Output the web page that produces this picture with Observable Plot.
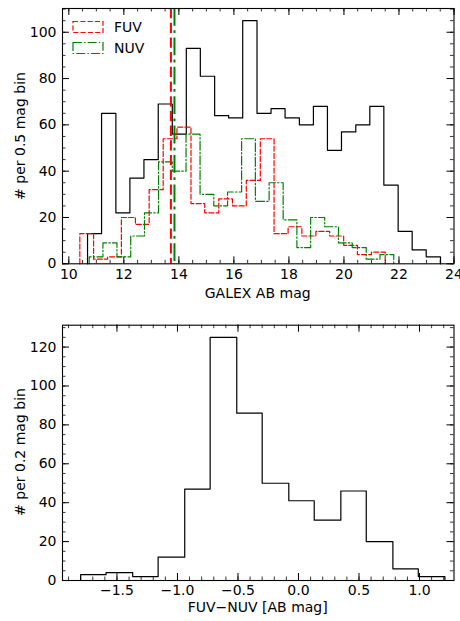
<!DOCTYPE html>
<html><head><meta charset="utf-8">
<script src="https://cdn.jsdelivr.net/npm/d3@7"></script>
<script src="https://cdn.jsdelivr.net/npm/@observablehq/plot@0.6"></script>
<style>
body{margin:0;background:#fff;}
#wrap{position:relative;width:460px;height:621px;font-family:"DejaVu Sans",sans-serif;background:#fff;}
.lab{position:absolute;font-size:14px;white-space:nowrap;color:#000;line-height:1;}
.chart{position:absolute;left:0;}
</style></head><body><div id="wrap"></div><script>
// ---------- data ----------
// Top panel: GALEX AB mag histograms (0.5 mag bins)
const totalEdges = [10.68,11.19,11.71,12.22,12.73,13.25,13.76,14.27,14.78,15.30,15.81,16.32,16.84,17.35,17.86,18.38,18.89,19.40,19.91,20.43,20.94,21.45,21.97,22.48,22.99,23.51];
const totalCounts = [13,65,22,37,45,69,56,93,81,64,63,105,65,67,63,60,68,49,57,60,68,34,14,6,3];
const fuvEdges = [10.40,10.90,11.41,11.91,12.42,12.92,13.43,13.93,14.44,14.94,15.45,15.95,16.45,16.96,17.46,17.97,18.47,18.98,19.48,19.99,20.49,21.00,21.50];
const fuvCounts = [13,2,3,20,17,32,54,59,26,22,28,25,36,54,13,16,12,14,12,8,4,5];
const nuvEdges = [10.74,11.24,11.75,12.25,12.75,13.26,13.76,14.26,14.77,15.27,15.77,16.28,16.78,17.28,17.79,18.29,18.79,19.30,19.80,20.30,20.81,21.31,21.81];
const nuvCounts = [3,9,3,12,22,44,40,56,30,25,31,54,27,35,19,7,20,16,9,7,2,4];
const medianFUV = 13.71;
const medianNUV = 13.84;
// Bottom panel: FUV-NUV colour histogram
const colorEdges = [-1.80,-1.59,-1.37,-1.16,-0.94,-0.73,-0.51,-0.30,-0.08,0.13,0.35,0.56,0.78,0.99,1.21];
const colorCounts = [3,4,2,12,47,125,86,50,41,31,46,20,6,2];
// axes / ticks
const topXDomain = [9.77, 24.0];
const topYDomain = [0, 110.25];
const botXDomain = [-1.95, 1.285];
const botYDomain = [0, 131.25];
const topXMajor = [10,12,14,16,18,20,22,24];
const topYMajor = [0,20,40,60,80,100];
const botXMajor = [-1.5,-1.0,-0.5,0.0,0.5,1.0];
const botYMajor = [0,20,40,60,80,100,120];
const topXMinor = d3.range(10, 24.01, 0.5);
const topYMinor = d3.range(0, 110.1, 5);
const botXMinor = d3.range(-19, 13).map(d => d / 10);
const botYMinor = d3.range(0, 131, 5);
const labels = {
  topX: "GALEX AB mag", topY: "# per 0.5 mag bin",
  botX: "FUV\u2212NUV [AB mag]", botY: "# per 0.2 mag bin",
  fuv: "FUV", nuv: "NUV"
};

// ---------- helpers ----------
function stepPts(edges, counts) {
  const pts = [{x: edges[0], y: 0}];
  counts.forEach((c, i) => { pts.push({x: edges[i], y: c}); pts.push({x: edges[i + 1], y: c}); });
  pts.push({x: edges[edges.length - 1], y: 0});
  return pts;
}
const W = 460, ML = 62, MR = 6.5;
const dashed = "5.1,2.2", dashdot = "8.9,2.2,1.4,2.2";
function tickMarks(xMajor, xMinor, yMajor, yMinor, ph, pw) {
  const s = {stroke: "black", strokeWidth: 1};
  const m = {stroke: "black", strokeWidth: 0.8};
  return [
    Plot.tickX(xMajor, {x: d => d, insetTop: ph - 7, ...s}),
    Plot.tickX(xMajor, {x: d => d, insetBottom: ph - 7, ...s}),
    Plot.tickX(xMinor, {x: d => d, insetTop: ph - 3.5, ...m}),
    Plot.tickX(xMinor, {x: d => d, insetBottom: ph - 3.5, ...m}),
    Plot.tickY(yMajor, {y: d => d, insetRight: pw - 7, ...s}),
    Plot.tickY(yMajor, {y: d => d, insetLeft: pw - 7, ...s}),
    Plot.tickY(yMinor, {y: d => d, insetRight: pw - 3.5, ...m}),
    Plot.tickY(yMinor, {y: d => d, insetLeft: pw - 3.5, ...m})
  ];
}
const wrap = document.getElementById("wrap");
const style = {fontFamily: "DejaVu Sans", fontSize: "14px", background: "transparent", overflow: "visible", color: "black"};

// ---------- top panel ----------
{
  const mt = 8, H = 300, bottom = 263.3, mb = H - bottom;
  const ph = bottom - mt, pw = W - ML - MR;
  const chart = Plot.plot({
    width: W, height: H, marginTop: mt, marginBottom: mb, marginLeft: ML, marginRight: MR,
    style,
    x: {domain: topXDomain},
    y: {domain: topYDomain},
    marks: [
      Plot.line(stepPts(totalEdges, totalCounts), {x: "x", y: "y", stroke: "black", strokeWidth: 1.2}),
      Plot.line(stepPts(fuvEdges, fuvCounts), {x: "x", y: "y", stroke: "#ff0000", strokeWidth: 1.2, strokeDasharray: dashed}),
      Plot.line(stepPts(nuvEdges, nuvCounts), {x: "x", y: "y", stroke: "green", strokeWidth: 1.2, strokeDasharray: dashdot}),
      Plot.ruleX([medianFUV], {x: d => d, stroke: "#ff0000", strokeWidth: 2, strokeDasharray: "10.3,4.4"}),
      Plot.ruleX([medianNUV], {x: d => d, stroke: "green", strokeWidth: 2, strokeDasharray: "17.8,4.4,2.8,4.4"}),
      ...tickMarks(topXMajor, topXMinor, topYMajor, topYMinor, ph, pw),
      Plot.frame({stroke: "black", strokeWidth: 1.1}),
      Plot.axisX({ticks: topXMajor, tickSize: 0, tickPadding: 5, tickFormat: d => String(d), label: null}),
      Plot.axisY({ticks: topYMajor, tickSize: 0, tickPadding: 6, tickFormat: d => String(d), label: null})
    ]
  });
  chart.classList.add("chart");
  chart.style.top = "0px";
  wrap.appendChild(chart);
}

// ---------- bottom panel ----------
{
  const top0 = 310, H = 300;
  const mt = 324.7 - top0, bottom = 580 - top0, mb = H - bottom;
  const ph = bottom - mt, pw = W - ML - MR;
  const chart = Plot.plot({
    width: W, height: H, marginTop: mt, marginBottom: mb, marginLeft: ML, marginRight: MR,
    style,
    x: {domain: botXDomain},
    y: {domain: botYDomain},
    marks: [
      Plot.line(stepPts(colorEdges, colorCounts), {x: "x", y: "y", stroke: "black", strokeWidth: 1.2}),
      ...tickMarks(botXMajor, botXMinor, botYMajor, botYMinor, ph, pw),
      Plot.frame({stroke: "black", strokeWidth: 1.1}),
      Plot.axisX({ticks: botXMajor, tickSize: 0, tickPadding: 5, tickFormat: d3.format(".1f"), label: null}),
      Plot.axisY({ticks: botYMajor, tickSize: 0, tickPadding: 6, tickFormat: d => String(d), label: null})
    ]
  });
  chart.classList.add("chart");
  chart.style.top = top0 + "px";
  wrap.appendChild(chart);
}

// ---------- axis titles & legend ----------
function addLabel(text, x, y, rot) {
  const d = document.createElement("div");
  d.className = "lab";
  d.textContent = text;
  d.style.left = x + "px";
  d.style.top = y + "px";
  d.style.transform = "translate(-50%,-50%)" + (rot ? " rotate(-90deg)" : "");
  wrap.appendChild(d);
}
addLabel(labels.topX, 257.7, 293, false);
addLabel(labels.botX, 257.7, 607, false);
addLabel(labels.topY, 20, 135.6, true);
addLabel(labels.botY, 20, 452.4, true);

function legendItem(text, color, dash, y) {
  const d = document.createElement("div");
  d.style.position = "absolute";
  d.style.left = "72px";
  d.style.top = (y - 7) + "px";
  d.style.display = "flex";
  d.style.alignItems = "center";
  d.innerHTML = `<svg width="32" height="14" style="display:block"><rect x="1" y="1.5" width="30" height="11" fill="none" stroke="${color}" stroke-width="1.2" stroke-dasharray="${dash}"/></svg><span style="font-size:14px;margin-left:10px;line-height:1">${text}</span>`;
  wrap.appendChild(d);
}
legendItem(labels.fuv, "#ff0000", dashed, 26.5);
legendItem(labels.nuv, "green", dashdot, 47.5);
</script></body></html>
